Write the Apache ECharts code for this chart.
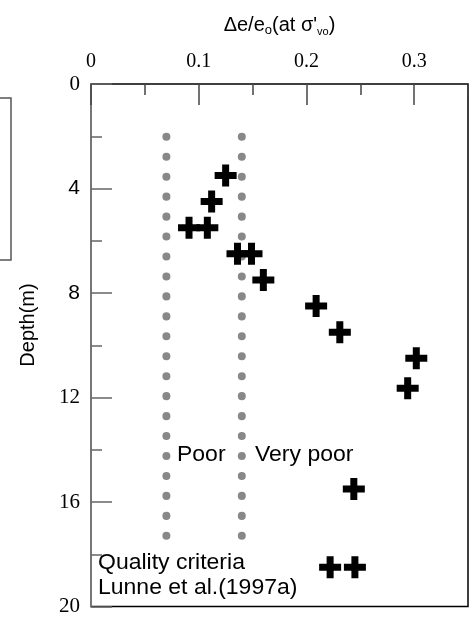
<!DOCTYPE html>
<html>
<head>
<meta charset="utf-8">
<script src="https://cdn.jsdelivr.net/npm/echarts@6/dist/echarts.min.js"></script>
<style>html,body{margin:0;padding:0;background:#fff;}#c{width:475px;height:617px;}</style>
</head>
<body>
<div id="c"></div>
<script>
// ---- data ----
const xTickValues = [0, 0.1, 0.2, 0.3];
const yTickValues = [0, 4, 8, 12, 16, 20];
const measured = [
  [0.125, 3.5], [0.112, 4.5], [0.091, 5.5], [0.108, 5.5],
  [0.136, 6.5], [0.149, 6.5], [0.160, 7.5], [0.209, 8.5],
  [0.231, 9.5], [0.302, 10.5], [0.294, 11.65], [0.244, 15.5],
  [0.222, 18.5], [0.245, 18.5]
];
const poorLimit = [[0.07, 2.02], [0.07, 17.3]];
const veryPoorLimit = [[0.14, 2.02], [0.14, 17.3]];

const SERIF = 'Liberation Serif';
const SANS = 'Liberation Sans';
const plus = 'path://M7.5,0H14.5V7.5H22V14.5H14.5V22H7.5V14.5H0V7.5H7.5Z';

const chart = echarts.init(document.getElementById('c'), null, {renderer: 'canvas'});
chart.setOption({
  animation: false,
  backgroundColor: '#fff',
  grid: {left: 91, top: 84, width: 377, height: 525, show: true,
         borderColor: '#000', borderWidth: 1.5, backgroundColor: 'transparent'},
  xAxis: [{
    type: 'value', position: 'top', min: 0, max: 0.35, interval: 0.1,
    name: '{m|\u0394e/e}{s|o}{m|(at \u03c3\'}{s2|vo}{m|)}',
    nameLocation: 'middle', nameGap: 47,
    nameTextStyle: {rich: {
      m: {fontFamily: SANS, fontSize: 20, color: '#000', lineHeight: 24},
      s: {fontFamily: SANS, fontSize: 13, color: '#000', verticalAlign: 'bottom', lineHeight: 13},
      s2: {fontFamily: SANS, fontSize: 11, color: '#000', verticalAlign: 'bottom', lineHeight: 11}
    }},
    axisLine: {show: false},
    axisTick: {show: true, inside: true, length: 21, lineStyle: {color: '#444', width: 1.5}},
    axisLabel: {fontFamily: SERIF, fontSize: 20, color: '#000', margin: 12,
      showMaxLabel: false,
      formatter: v => (xTickValues.some(t => Math.abs(t - v) < 1e-9) ? String(Math.round(v * 10) / 10) : '')},
    splitLine: {show: false}
  }, {
    type: 'value', position: 'top', min: 0, max: 0.35, interval: 0.05, offset: 0,
    axisLine: {show: false},
    axisTick: {show: true, inside: true, length: 11, lineStyle: {color: '#444', width: 1.5}},
    axisLabel: {show: false},
    splitLine: {show: false}
  }],
  yAxis: {
    type: 'value', inverse: true, min: 0, max: 20, interval: 4,
    axisLine: {show: true, lineStyle: {color: '#777', width: 2}},
    axisTick: {show: true, inside: true, length: 21, lineStyle: {color: '#666', width: 1.5}},
    minorTick: {show: true, splitNumber: 2, length: 11, lineStyle: {color: '#666', width: 1.5}},
    axisLabel: {margin: 11, color: '#000',
      formatter: v => ((v === 4 || v === 8) ? '{s|' + v + '}' : (yTickValues.indexOf(v) >= 0 ? '{r|' + v + '}' : '')),
      rich: {
        s: {fontFamily: SANS, fontSize: 21, color: '#000'},
        r: {fontFamily: SERIF, fontSize: 21, color: '#000'}
      }},
    splitLine: {show: false}
  },
  series: [{
    type: 'line', data: poorLimit, symbol: 'none', silent: true,
    lineStyle: {color: '#888', width: 8, type: [0.1, 19.85], cap: 'round'}
  }, {
    type: 'line', data: veryPoorLimit, symbol: 'none', silent: true,
    lineStyle: {color: '#888', width: 8, type: [0.1, 19.85], cap: 'round'}
  }, {
    type: 'scatter', data: measured, symbol: plus, symbolSize: 22,
    itemStyle: {color: '#000', opacity: 1}, z: 5
  }],
  graphic: [
    {type: 'rect', shape: {x: -20, y: 98, width: 31, height: 162},
     style: {fill: 'none', stroke: '#555', lineWidth: 1.5}},
    {type: 'text', x: 28, y: 325, rotation: Math.PI / 2,
     style: {text: 'Depth(m)', fontFamily: SANS, fontSize: 20, fill: '#000', align: 'center', verticalAlign: 'middle'}},
    {type: 'text', x: 177, y: 455, scaleX: 1.045,
     style: {text: 'Poor', fontFamily: SANS, fontSize: 22, fill: '#000', align: 'left', verticalAlign: 'middle'}},
    {type: 'text', x: 255, y: 455, scaleX: 1.045,
     style: {text: 'Very poor', fontFamily: SANS, fontSize: 22, fill: '#000', align: 'left', verticalAlign: 'middle'}},
    {type: 'text', x: 98, y: 563, scaleX: 1.045,
     style: {text: 'Quality criteria', fontFamily: SANS, fontSize: 22, fill: '#000', align: 'left', verticalAlign: 'middle'}},
    {type: 'text', x: 98, y: 588, scaleX: 1.045,
     style: {text: 'Lunne et al.(1997a)', fontFamily: SANS, fontSize: 22, fill: '#000', align: 'left', verticalAlign: 'middle'}}
  ]
});
</script>
</body>
</html>
